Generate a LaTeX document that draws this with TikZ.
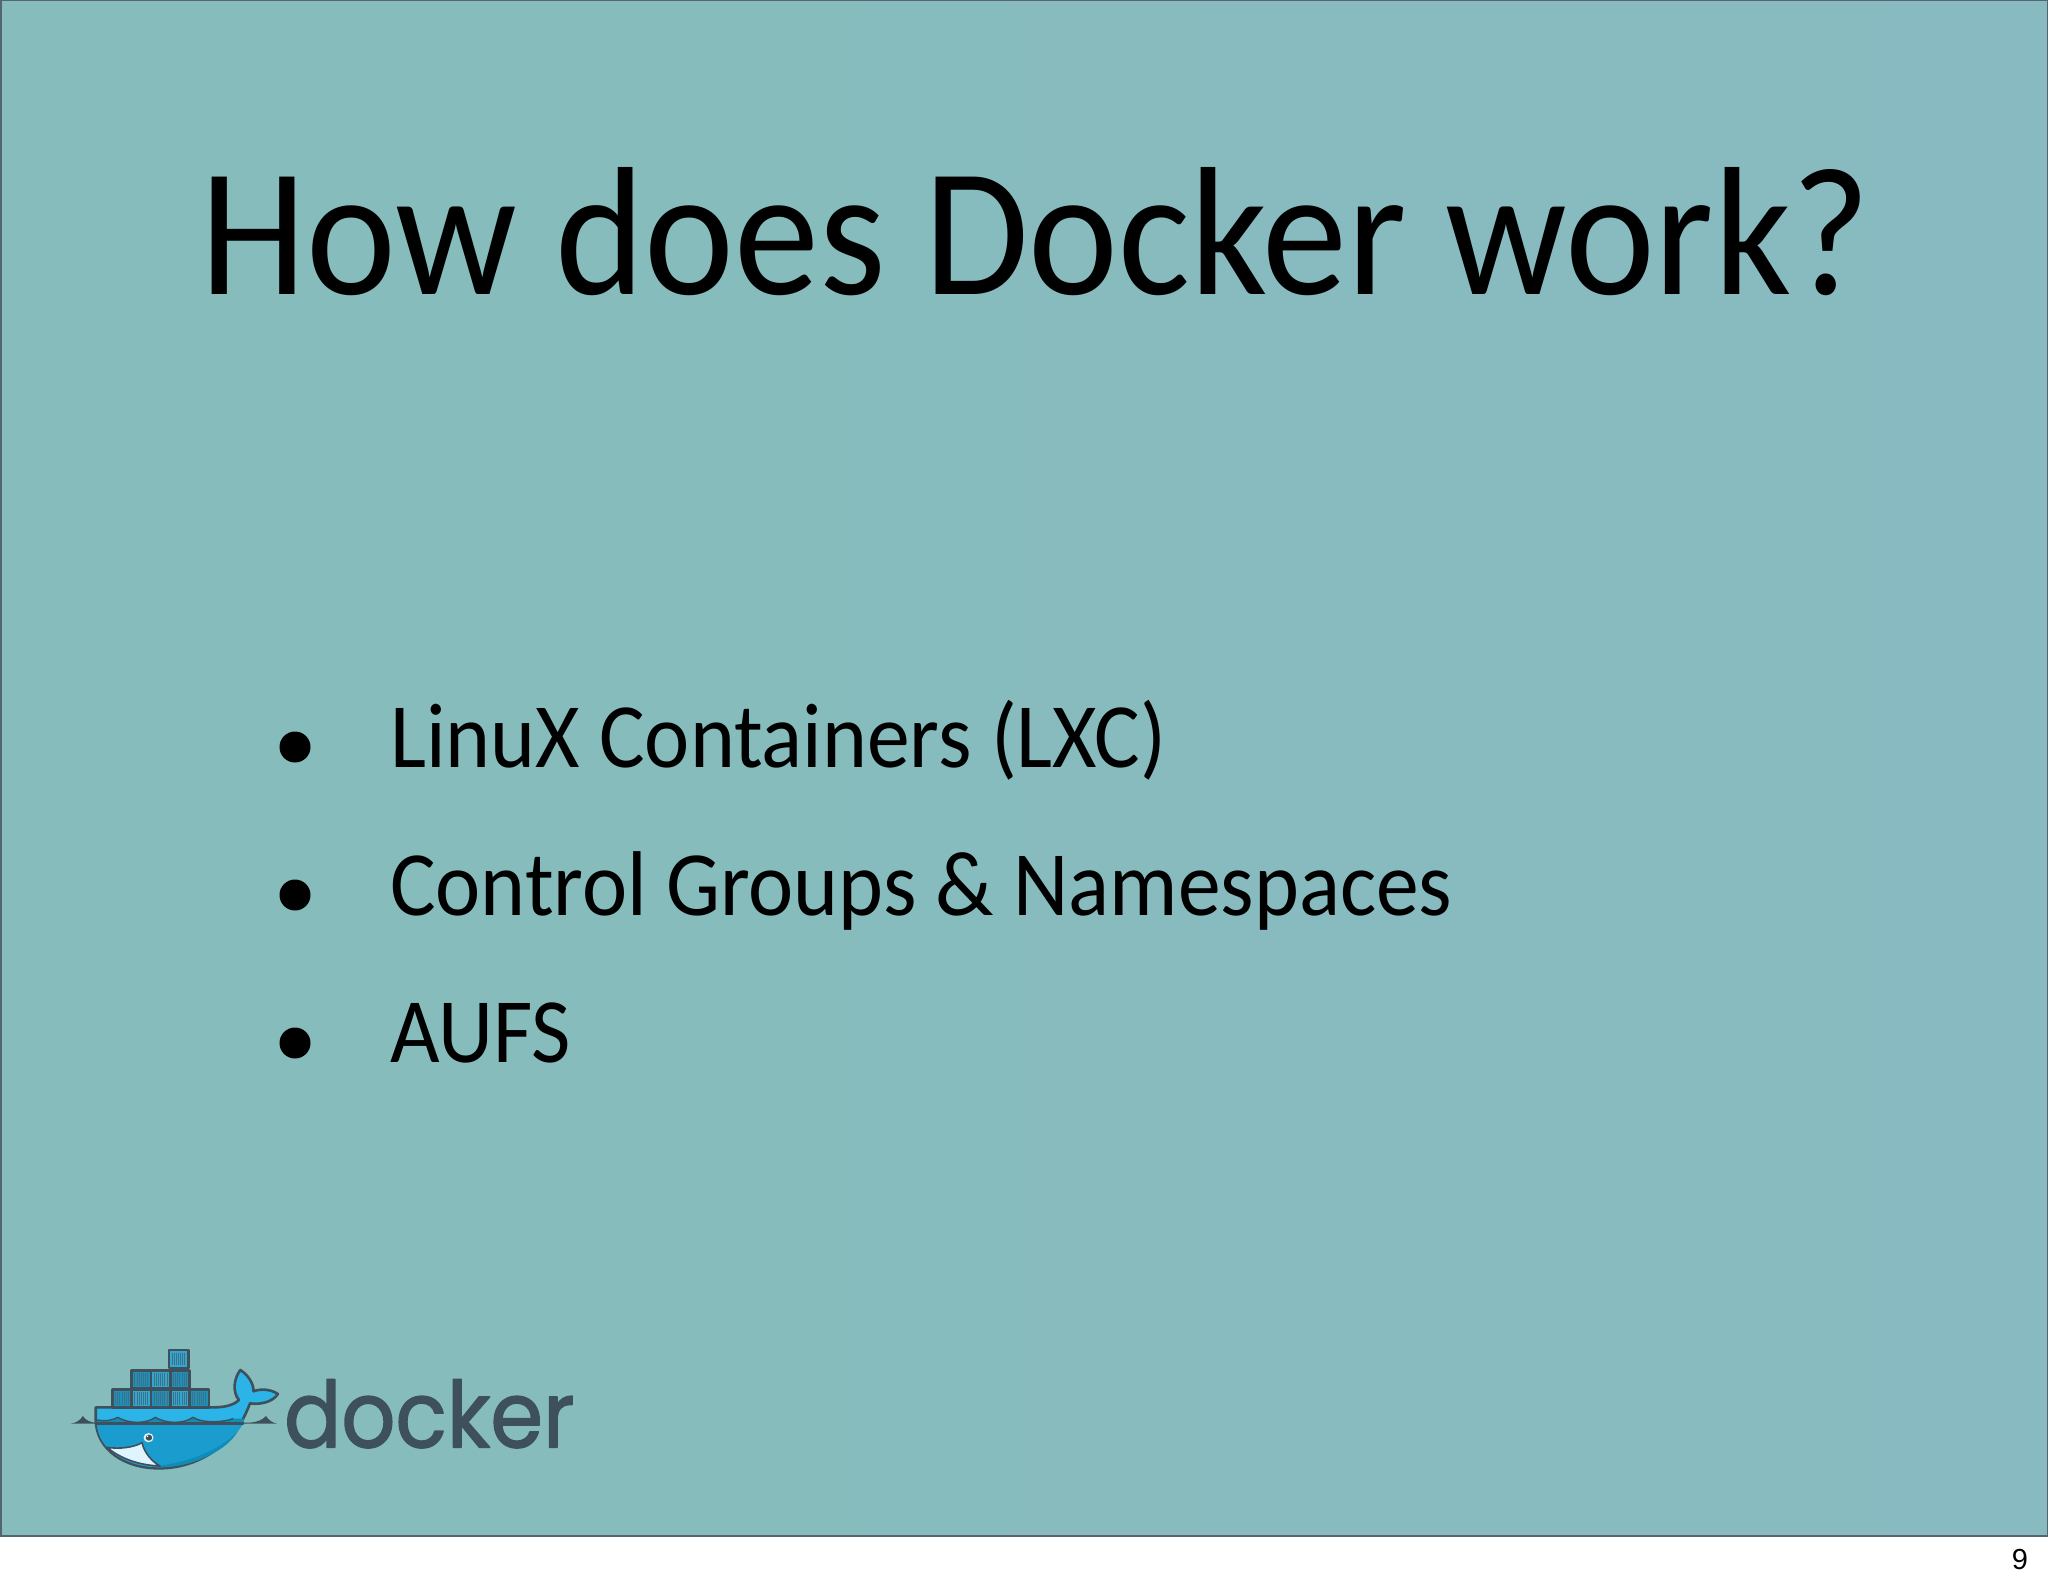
\documentclass[tikz,border=0pt]{standalone}
\usepackage{fontspec}
\setmainfont[FakeStretch=0.93]{Carlito}
\newfontfamily\logofont[FakeStretch=0.92,FakeBold=1.5]{Poppins}
\newfontfamily\pagefont{Liberation Sans}
\definecolor{slideleft}{HTML}{86BCBB}
\definecolor{slideright}{HTML}{88BBC1}
\definecolor{slideedge}{HTML}{56646E}
\definecolor{logoink}{HTML}{3D505C}
\definecolor{whalelight}{HTML}{2BB4E8}
\definecolor{whalemid}{HTML}{1B9CCE}
\definecolor{whaledark}{HTML}{0F8CB8}
\definecolor{boxlight}{HTML}{34A6CE}
\definecolor{boxdark}{HTML}{2090B8}
\tikzset{
  titletext/.style={anchor=base west, inner sep=0pt, font=\fontsize{183}{183}\selectfont},
  itemtext/.style={anchor=base west, inner sep=0pt, font=\fontsize{92}{92}\selectfont},
  itemdot/.style={circle, fill=black, inner sep=0pt, minimum size=31pt},
  logoline/.style={draw=logoink, line width=2.6pt}
}
\begin{document}
\begin{tikzpicture}[x=1pt, y=-1pt, line join=round, line cap=round]
  \useasboundingbox (0,0) rectangle (2048,1587);
  \fill[white] (0,0) rectangle (2048,1587);
  \draw[slideedge, line width=2pt, left color=slideleft, right color=slideright] (0.5,0.5) rectangle (2047.5,1535.5);
  \node[titletext] (title) at (200,294) {How does Docker work?};
  % items
  \foreach \name/\ytext/\ydot/\label in {lxc/767/747/LinuX Containers (LXC), cgroups/915/895/Control Groups \& Namespaces, aufs/1062/1043/AUFS}{
    \node[itemdot] (dot\name) at (295,\ydot) {};
    \node[itemtext] (item\name) at (390,\ytext) {\label};
  }
  \node[anchor=base, inner sep=0pt, font=\pagefont\fontsize{29}{29}\selectfont] (pagenum) at (2020,1569) {9};
  % logo, in crop units
  \begin{scope}[shift={(50,1320)}, x=0.3571pt, y=-0.3333pt]
    % water
    \fill[logoink] (58,311) .. controls (75,308) and (85,300) .. (92,288) .. controls (100,302) and (115,308) .. (130,308)
      -- (560,308) .. controls (580,306) and (595,300) .. (605,288) .. controls (612,300) and (622,308) .. (636,311) -- cycle;
    % hull and tail
    \draw[logoline, fill=whalelight] (128,262) -- (460,262) .. controls (490,262) and (515,255) .. (529,240)
      .. controls (510,215) and (515,175) .. (533,150) .. controls (555,165) and (570,190) .. (570,214)
      .. controls (590,205) and (620,208) .. (638,222) .. controls (625,245) and (590,255) .. (560,250)
      .. controls (520,370) and (420,445) .. (305,445) .. controls (210,445) and (130,390) .. (128,300) -- cycle;
    % belly
    \fill[whalemid] (131,311) -- (541,311) .. controls (500,385) and (410,441) .. (305,442) .. controls (215,442) and (135,390) .. (131,311) -- cycle;
    \fill[whaledark] (300,438) .. controls (400,425) and (480,385) .. (525,335) .. controls (500,385) and (410,441) .. (305,442) -- cycle;
    % waves
    \fill[whaledark] (132,300) .. controls (160,305) and (175,300) .. (190,292) .. controls (220,312) and (270,312) .. (295,292)
      .. controls (325,312) and (375,312) .. (400,292) .. controls (430,312) and (490,306) .. (512,296) -- (545,296) -- (541,311) -- (131,311) -- cycle;
    \draw[logoink, line width=1.4pt] (132,300) .. controls (160,305) and (175,300) .. (190,292) .. controls (220,312) and (270,312) .. (295,292)
      .. controls (325,312) and (375,312) .. (400,292) .. controls (430,312) and (490,306) .. (512,296);
    \draw[logoink, line width=2.4pt] (128,311) -- (541,311);
    % jaw
    \draw[logoink, line width=1.6pt, fill=white!85!whalelight] (160,382) .. controls (195,388) and (235,382) .. (258,368)
      .. controls (262,395) and (285,425) .. (308,438) .. controls (250,436) and (195,415) .. (160,382) -- cycle;
    % eye
    \fill[white!85!whalelight] (276,353) circle (14);
    \fill[logoink] (277,353) circle (9);
    \fill[white] (273,349) circle (2.5);
    % containers
    \foreach \cx/\cy/\cfill in {175/208/boxdark, 229/208/boxlight, 283/208/boxdark, 337/208/boxlight, 391/208/boxdark,
        229/151/boxdark, 283/151/boxlight, 337/151/boxdark, 333/90/boxlight}{
      \draw[logoline, fill=\cfill] (\cx,\cy) rectangle +(54,54);
      \foreach \rib in {8,14,...,46}
        \draw[logoink!60!boxlight, line width=0.5pt, line cap=butt] ([shift={(\rib,8)}]\cx,\cy) -- ++(0,38);
    }
    \node[anchor=base west, inner sep=0pt, text=logoink, font=\logofont\fontsize{92}{92}\selectfont] (wordmark) at (655,382) {docker};
  \end{scope}
\end{tikzpicture}
\end{document}
